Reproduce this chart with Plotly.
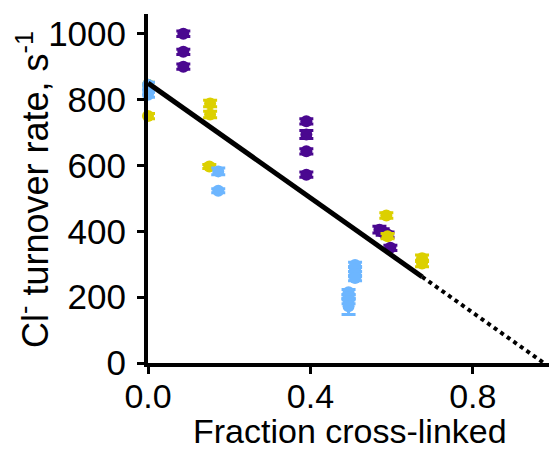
import plotly.graph_objects as go

# Data
purple_x = [0.087, 0.087, 0.087, 0.39, 0.39, 0.39, 0.39, 0.57, 0.578, 0.59, 0.597]
purple_y = [1000, 945, 900, 734, 694, 643, 572, 405, 398, 390, 350]
purple_err = [8, 8, 8, 8, 12, 8, 8, 10, 10, 8, 8]

yellow_x = [0.0, 0.0, 0.153, 0.153, 0.151, 0.587, 0.59, 0.675, 0.675]
yellow_y = [845, 750, 788, 755, 597, 448, 385, 318, 302]
yellow_err = [8, 8, 10, 10, 6, 8, 8, 10, 10]

blue_x = [0.0, 0.0, 0.0, 0.173, 0.173, 0.51, 0.51, 0.51, 0.51, 0.494, 0.494, 0.494, 0.494]
blue_y = [845, 830, 815, 582, 523, 298, 285, 270, 258, 215, 200, 188, 172]
blue_err = [8, 8, 8, 10, 6, 8, 8, 8, 8, 8, 8, 8, 25]

fit_x = [0.0, 0.675]
fit_y = [850, 262]
extrap_x = [0.675, 0.975]
extrap_y = [262, 0]

x_ticks = [0.0, 0.4, 0.8]
x_tick_labels = ["0.0", "0.4", "0.8"]
y_ticks = [0, 200, 400, 600, 800, 1000]

x_title = "Fraction cross-linked"
y_title = "Cl<sup>-</sup> turnover rate, s<sup>-1</sup>"

FONT = "Liberation Sans, Arial, sans-serif"

fig = go.Figure()

def add_series(xs, ys, errs, color):
    fig.add_trace(go.Scatter(
        x=xs, y=ys, mode="markers",
        marker=dict(color=color, size=12, symbol="circle"),
        error_y=dict(type="data", array=errs, visible=True, color=color,
                     thickness=3, width=7),
        cliponaxis=False, showlegend=False,
    ))

add_series(purple_x, purple_y, purple_err, "#4A0890")
add_series(yellow_x, yellow_y, yellow_err, "#DCD000")
add_series(blue_x, blue_y, blue_err, "#6DB6FF")

fig.add_trace(go.Scatter(x=fit_x, y=fit_y, mode="lines",
                         line=dict(color="black", width=5),
                         cliponaxis=False, showlegend=False))
fig.add_trace(go.Scatter(x=extrap_x, y=extrap_y, mode="lines",
                         line=dict(color="black", width=4, dash="dot"),
                         cliponaxis=False, showlegend=False))

# the page body adds an 8px offset, so the figure is sized to fit the window
fig.update_layout(
    width=549, height=443,
    margin=dict(l=140, r=3, t=6, b=88),
    paper_bgcolor="white", plot_bgcolor="white",
    font=dict(family=FONT, color="black"),
    xaxis=dict(
        range=[0, 1.0], tickvals=x_ticks, ticktext=x_tick_labels,
        showline=True, linewidth=4, linecolor="black",
        ticks="outside", ticklen=7, tickwidth=3, tickcolor="black",
        showgrid=False, zeroline=False, automargin=False,
        tickfont=dict(size=34, family=FONT, color="black"),
        ticklabelstandoff=-7,
    ),
    yaxis=dict(
        range=[0, 1060], tickvals=y_ticks,
        showline=True, linewidth=4, linecolor="black",
        ticks="outside", ticklen=7, tickwidth=3, tickcolor="black",
        showgrid=False, zeroline=False, automargin=False,
        tickfont=dict(size=35, family=FONT, color="black"),
        ticklabelstandoff=4,
    ),
    annotations=[
        dict(text=x_title, xref="paper", yref="paper", x=0.498, y=-0.194,
             xanchor="center", yanchor="middle", showarrow=False,
             font=dict(size=34, family=FONT, color="black")),
        dict(text=y_title, xref="paper", yref="paper", x=-0.283, y=0.496,
             xanchor="center", yanchor="middle", showarrow=False, textangle=-90,
             font=dict(size=36, family=FONT, color="black")),
    ],
)

fig.write_html("out.html")
